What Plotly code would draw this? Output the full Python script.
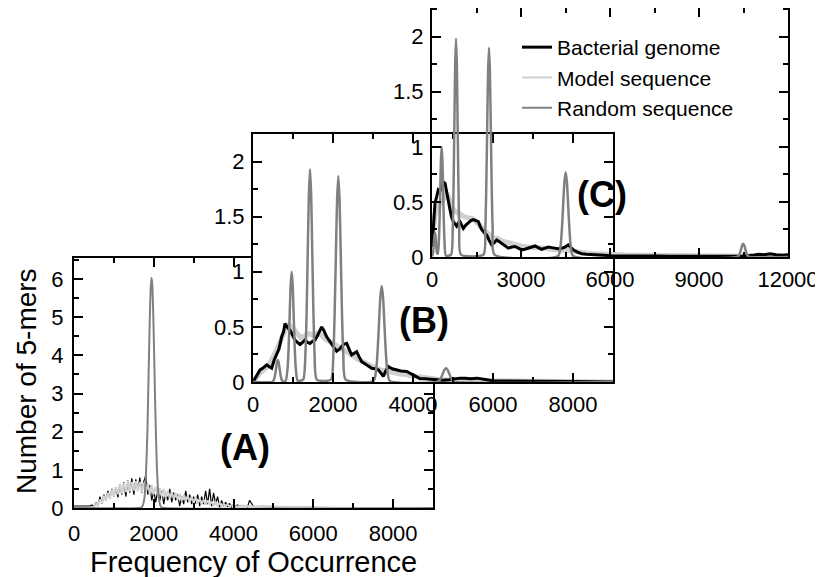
import plotly.graph_objects as go

# ---- 数据 (A) ----
a_bact_x = list(range(0, 401, 100)) + list(range(450, 4401, 50)) + list(range(4500, 9001, 250))
a_bact_y = [0.05, 0.05, 0.04, 0.04, 0.05,
            0.08, 0.02, 0.15, 0.05, 0.3, 0.12, 0.35, 0.2, 0.45, 0.25,
            0.5, 0.3, 0.55, 0.28, 0.62, 0.35, 0.68, 0.3, 0.72, 0.4,
            0.78, 0.35, 0.75, 0.45, 0.8, 0.4, 0.7, 0.85, 0.35, 0.6,
            0.2, 0.45, 0.15, 0.5, 0.2, 0.45, 0.1, 0.4, 0.2, 0.5,
            0.15, 0.4, 0.2, 0.35, 0.05, 0.3, 0.1, 0.45, 0.15, 0.35,
            0.1, 0.3, 0.12, 0.35, 0.05, 0.3, 0.1, 0.45, 0.1, 0.5,
            0.05, 0.4, 0.1, 0.3, 0.02, 0.2, 0.05, 0.15, 0.03, 0.12,
            0.02, 0.1, 0.04, 0.08, 0.05, 0.07, 0.04, 0.06, 0.03, 0.2,
            0.04, 0.03, 0.03, 0.02, 0.02, 0.015, 0.01, 0.01, 0.008, 0.006,
            0.005, 0.004, 0.003, 0.003, 0.002, 0.002, 0.001, 0.001, 0]

a_model_x = [0, 100, 200, 300, 400, 450] + list(range(500, 4001, 50)) + \
            [4250, 4500, 4750, 5000, 5250, 5500, 5750, 6000, 6500, 7000, 8000, 9000]
a_model_y = [0.01, 0.01, 0.01, 0.01, 0.01, 0.01,
             0.02, 0.12, 0.06, 0.22, 0.14, 0.32, 0.2, 0.4, 0.26, 0.48,
             0.3, 0.55, 0.36, 0.62, 0.38, 0.66, 0.42, 0.7, 0.44, 0.68,
             0.46, 0.7, 0.44, 0.68, 0.42, 0.66, 0.4, 0.64, 0.38, 0.6,
             0.36, 0.56, 0.34, 0.52, 0.3, 0.5, 0.28, 0.46, 0.26, 0.42,
             0.24, 0.4, 0.22, 0.38, 0.2, 0.34, 0.18, 0.32, 0.16, 0.3,
             0.14, 0.27, 0.12, 0.24, 0.1, 0.22, 0.09, 0.2, 0.08, 0.17,
             0.07, 0.15, 0.06, 0.13, 0.05, 0.11, 0.04, 0.09, 0.04, 0.08,
             0.03,
             0.06, 0.04, 0.05, 0.03, 0.025, 0.02, 0.01, 0.01, 0.005, 0, 0, 0]

a_rand_x = [0, 1600, 1700, 1760, 1800, 1840, 1870, 1900, 1920, 1940, 1960, 1980,
            2010, 2040, 2080, 2120, 2180, 2300, 9000]
a_rand_y = [0, 0, 0.02, 0.22, 0.8, 2.0, 3.5, 4.95, 5.7, 6.03, 5.9, 5.35,
            4.0, 2.5, 1.0, 0.32, 0.03, 0, 0]

# ---- 数据 (B) ----
b_bact_x = [0, 100, 175, 260, 342, 400, 467, 530, 592, 650, 717, 760, 800, 850, 925, 990,
            1050, 1110, 1175, 1240, 1300, 1360, 1425, 1490, 1550, 1610, 1675, 1717, 1780,
            1842, 1900, 1967, 2030, 2092, 2170, 2258, 2342, 2400, 2467, 2530, 2592, 2650,
            2717, 2780, 2842, 2900, 2967, 3050, 3133, 3200, 3258, 3320, 3383, 3480, 3592,
            3700, 3842, 3920, 4008, 4090, 4175, 4300, 4450, 4600, 4750, 4900, 5050, 5175,
            5300, 5450, 5600, 5750, 5850, 6000, 6300, 6600, 7000, 7500, 8000, 8500, 9000]
b_bact_y = [0, 0.06, 0.11, 0.13, 0.155, 0.14, 0.125, 0.2, 0.26, 0.3, 0.41, 0.45, 0.53, 0.5,
            0.47, 0.42, 0.38, 0.36, 0.34, 0.36, 0.38, 0.36, 0.35, 0.37, 0.38, 0.42, 0.47,
            0.5, 0.46, 0.41, 0.38, 0.34, 0.31, 0.28, 0.3, 0.34, 0.35, 0.3, 0.245, 0.26,
            0.275, 0.23, 0.185, 0.17, 0.155, 0.14, 0.125, 0.12, 0.11, 0.08, 0.05, 0.1,
            0.14, 0.12, 0.11, 0.1, 0.095, 0.08, 0.065, 0.05, 0.03, 0.03, 0.025, 0.02,
            0.015, 0.02, 0.03, 0.035, 0.035, 0.03, 0.035, 0.03, 0.02, 0.01, 0.01, 0.005,
            0.005, 0.008, 0.005, 0.003, 0]

b_model_x = [0, 100, 175, 260, 342, 420, 500, 600, 717, 800, 900, 1000, 1100, 1200, 1300,
             1400, 1500, 1600, 1700, 1800, 1900, 2000, 2100, 2200, 2300, 2400, 2500, 2600,
             2700, 2800, 2900, 3000, 3100, 3200, 3300, 3400, 3500, 3600, 3700, 3800, 3900,
             4000, 4200, 4400, 4600, 4800, 5000, 5500, 6000, 6500, 7000, 8000, 9000]
b_model_y = [0, 0.05, 0.08, 0.11, 0.13, 0.17, 0.22, 0.3, 0.4, 0.47, 0.52, 0.49, 0.44, 0.4,
             0.42, 0.44, 0.42, 0.44, 0.43, 0.39, 0.37, 0.35, 0.33, 0.31, 0.29, 0.26, 0.24,
             0.21, 0.19, 0.17, 0.15, 0.14, 0.12, 0.11, 0.1, 0.1, 0.08, 0.08, 0.07, 0.07,
             0.06, 0.05, 0.045, 0.03, 0.025, 0.02, 0.02, 0.015, 0.012, 0.008, 0.005, 0.003, 0]

b_rand_x = [0,
            485, 530, 553, 575, 598, 620, 643, 665, 688, 710, 755,
            817, 867, 892, 917, 942, 967, 992, 1017, 1042, 1067, 1117,
            1254, 1311, 1340, 1368, 1397, 1425, 1454, 1482, 1511, 1539, 1596,
            1947, 2009, 2040, 2071, 2102, 2133, 2164, 2195, 2226, 2257, 2319,
            3013, 3081, 3115, 3149, 3183, 3217, 3251, 3285, 3319, 3353, 3421,
            4585, 4665, 4705, 4745, 4785, 4825, 4865, 4905, 4945, 4985, 5065,
            9000]
b_rand_y = [0,
            0.002, 0.027, 0.065, 0.121, 0.177, 0.2, 0.177, 0.121, 0.065, 0.027, 0.002,
            0.011, 0.135, 0.325, 0.607, 0.883, 1.0, 0.883, 0.607, 0.325, 0.135, 0.011,
            0.021, 0.261, 0.627, 1.171, 1.703, 1.93, 1.703, 1.171, 0.627, 0.261, 0.021,
            0.021, 0.253, 0.607, 1.134, 1.65, 1.87, 1.65, 1.134, 0.607, 0.253, 0.021,
            0.01, 0.118, 0.282, 0.528, 0.768, 0.87, 0.768, 0.528, 0.282, 0.118, 0.01,
            0.001, 0.017, 0.041, 0.076, 0.11, 0.125, 0.11, 0.076, 0.041, 0.017, 0.001,
            0]

# ---- 数据 (C) ----
c_bact_x = [0, 50, 101, 160, 213, 270, 326, 380, 438, 494, 550, 607, 660, 718, 775, 831,
            890, 944, 1000, 1056, 1140, 1225, 1310, 1393, 1480, 1562, 1620, 1674, 1760,
            1843, 1930, 2012, 2100, 2180, 2260, 2349, 2460, 2573, 2690, 2797, 2910, 3022,
            3130, 3247, 3360, 3471, 3580, 3696, 3810, 3920, 4030, 4145, 4260, 4370, 4480,
            4594, 4680, 4763, 4900, 5044, 5200, 5400, 5600, 5800, 6000, 6300, 6600, 7000,
            7500, 8000, 8500, 9000, 9500, 10000, 10500, 10800, 11000, 11200, 11400, 11600,
            11800, 12000]
c_bact_y = [0.09, 0.3, 0.49, 0.55, 0.61, 0.6, 0.65, 0.68, 0.67, 0.58, 0.5, 0.43, 0.36,
            0.32, 0.3, 0.28, 0.31, 0.32, 0.29, 0.26, 0.29, 0.31, 0.33, 0.34, 0.33, 0.32,
            0.28, 0.25, 0.22, 0.2, 0.15, 0.11, 0.13, 0.155, 0.14, 0.125, 0.1, 0.08, 0.09,
            0.095, 0.08, 0.065, 0.07, 0.08, 0.09, 0.1, 0.085, 0.07, 0.08, 0.09, 0.085, 0.08,
            0.075, 0.08, 0.09, 0.11, 0.09, 0.065, 0.045, 0.03, 0.025, 0.02, 0.02, 0.015,
            0.012, 0.01, 0.01, 0.008, 0.008, 0.006, 0.006, 0.005, 0.005, 0.006, 0.01, 0.015,
            0.025, 0.02, 0.03, 0.02, 0.015, 0.02]

c_model_x = [0, 50, 100, 160, 213, 300, 380, 440, 494, 550, 600, 650, 700, 750, 850, 950,
             1050, 1150, 1250, 1350, 1450, 1550, 1700, 1850, 2000, 2100, 2200, 2400, 2600,
             2800, 3000, 3200, 3400, 3600, 3800, 4000, 4150, 4300, 4450, 4600, 4800, 5000,
             5250, 5500, 5750, 6000, 6500, 7000, 7500, 8000, 9000, 10000, 11000, 12000]
c_model_y = [0.15, 0.3, 0.38, 0.43, 0.46, 0.5, 0.52, 0.55, 0.57, 0.55, 0.5, 0.45, 0.44,
             0.42, 0.4, 0.38, 0.37, 0.36, 0.36, 0.35, 0.33, 0.3, 0.26, 0.22, 0.19, 0.17,
             0.17, 0.14, 0.13, 0.11, 0.1, 0.09, 0.09, 0.08, 0.08, 0.07, 0.07, 0.07, 0.065,
             0.06, 0.05, 0.04, 0.035, 0.03, 0.025, 0.02, 0.018, 0.015, 0.013, 0.01, 0.01,
             0.01, 0.01, 0.01]

c_rand_x = [0, 30, 48, 65, 83, 100, 118, 135, 153, 170, 195,
            230, 254, 278, 302, 326, 350, 374, 398, 422, 470,
            644, 699, 727, 754, 782, 809, 837, 864, 892, 919, 974,
            1735, 1797, 1828, 1859, 1890, 1921, 1952, 1983, 2014, 2045, 2107,
            4250, 4335, 4378, 4420, 4463, 4505, 4548, 4590, 4633, 4675, 4760,
            10280, 10350, 10385, 10420, 10455, 10490, 10525, 10560, 10595, 10630, 10700,
            12000]
c_rand_y = [0.005, 0.03, 0.071, 0.134, 0.194, 0.22, 0.194, 0.134, 0.071, 0.035, 0.03,
            0.135, 0.325, 0.607, 0.883, 1.0, 0.883, 0.607, 0.325, 0.135, 0.011,
            0.022, 0.268, 0.643, 1.201, 1.747, 1.98, 1.747, 1.201, 0.643, 0.268, 0.022,
            0.021, 0.257, 0.617, 1.152, 1.677, 1.9, 1.677, 1.152, 0.617, 0.257, 0.021,
            0.009, 0.104, 0.25, 0.467, 0.68, 0.77, 0.68, 0.467, 0.25, 0.104, 0.009,
            0.001, 0.016, 0.039, 0.073, 0.106, 0.12, 0.106, 0.073, 0.039, 0.016, 0.001,
            0]

c_tick_vals = [0, 3000, 6000, 9000, 12000]
c_tick_text = ["0", "3000", "6000", "9000", "12000"]

series_names = ["Bacterial genome", "Model sequence", "Random sequence"]
panel_labels = ["(A)", "(B)", "(C)"]

W, H = 823, 577
PAGE_OFFSET = 8  # 页面body默认留白
FONT = "Liberation Sans, Arial, sans-serif"
BLACK, LIGHT, GRAY = "#000000", "#d0d0d0", "#808080"


def px_x(p):
    return (p - PAGE_OFFSET) / W


def px_y(p):
    return 1 - (p - PAGE_OFFSET) / H


def axis_style(dom, rng, dtick, minor, standoff):
    return dict(
        domain=dom, range=rng, dtick=dtick, tick0=0,
        showline=True, linecolor="black", linewidth=2, mirror="ticks",
        ticks="inside", ticklen=9, tickwidth=1.5, tickcolor="black",
        minor=dict(ticks="inside", ticklen=5, tickwidth=1.5, tickcolor="black", dtick=minor),
        showgrid=False, zeroline=False, exponentformat="none",
        tickfont=dict(family=FONT, size=22, color="black"),
        ticklabelstandoff=standoff,
    )


def add_text(fig, text, sx, sy, size, angle=0):
    fig.add_annotation(x=px_x(sx), y=px_y(sy), xref="paper", yref="paper", text=text,
                       xanchor="center", yanchor="middle", textangle=angle, showarrow=False,
                       font=dict(family=FONT, size=size, color="black"))


fig = go.Figure()

# A: 模型序列画在上面 (灰色带), 其它面板黑线在上
panels = [
    ("x", "y", (a_model_x, a_model_y), (a_bact_x, a_bact_y), (a_rand_x, a_rand_y), (2, 1.2, 2), True),
    ("x2", "y2", (b_model_x, b_model_y), (b_bact_x, b_bact_y), (b_rand_x, b_rand_y), (5, 3, 2.5), False),
    ("x3", "y3", (c_model_x, c_model_y), (c_bact_x, c_bact_y), (c_rand_x, c_rand_y), (5, 3, 2.5), False),
]
for xa, ya, model, bact, rand, widths, model_on_top in panels:
    tr_model = go.Scatter(x=model[0], y=model[1], mode="lines", xaxis=xa, yaxis=ya,
                          line=dict(color=LIGHT, width=widths[0]), showlegend=False)
    tr_bact = go.Scatter(x=bact[0], y=bact[1], mode="lines", xaxis=xa, yaxis=ya,
                         line=dict(color=BLACK, width=widths[1]), showlegend=False)
    if model_on_top:
        fig.add_trace(tr_bact)
        fig.add_trace(tr_model)
    else:
        fig.add_trace(tr_model)
        fig.add_trace(tr_bact)
    fig.add_trace(go.Scatter(x=rand[0], y=rand[1], mode="lines", xaxis=xa, yaxis=ya,
                             line=dict(color=GRAY, width=widths[2], shape="spline", smoothing=0.6),
                             showlegend=False))

# 图例 (只在C面板)
for name, col, w in zip(series_names, [BLACK, LIGHT, GRAY], [3, 2, 2]):
    fig.add_trace(go.Scatter(x=[None], y=[None], mode="lines", name=name, xaxis="x3", yaxis="y3",
                             line=dict(color=col, width=w)))

c_x = axis_style([px_x(432), px_x(788)], [0, 12000], 3000, 1500, 2)
c_x.update(tickvals=c_tick_vals, ticktext=c_tick_text, tickmode="array")

fig.update_layout(
    width=W, height=H,
    margin=dict(l=0, r=0, t=0, b=0, autoexpand=False),
    paper_bgcolor="white", plot_bgcolor="white",
    font=dict(family=FONT, color="black"),
    xaxis=axis_style([px_x(74), px_x(433)], [0, 9000], 2000, 1000, 5),
    yaxis=axis_style([px_y(508), px_y(258)], [0, 6.55], 1, 0.5, 4),
    xaxis2=dict(anchor="y2", **axis_style([px_x(253), px_x(613)], [0, 9000], 2000, 1000, 2)),
    yaxis2=dict(anchor="x2", **axis_style([px_y(382), px_y(134)], [0, 2.25], 0.5, 0.25, 2)),
    xaxis3=dict(anchor="y3", **c_x),
    yaxis3=dict(anchor="x3", **axis_style([px_y(257), px_y(8)], [0, 2.26], 0.5, 0.25, 2)),
    legend=dict(x=px_x(517), y=px_y(27), xanchor="left", yanchor="top",
                bgcolor="rgba(0,0,0,0)", font=dict(family=FONT, size=21, color="black"),
                tracegroupgap=0),
    showlegend=True,
)

label_pos = [(245, 447), (424, 320), (602, 195)]
for text, (lx, ly) in zip(panel_labels, label_pos):
    add_text(fig, f"<b>{text}</b>", lx, ly, 36)

add_text(fig, "Frequency of Occurrence", 254, 562, 29)
add_text(fig, "Number of 5-mers", 26, 381, 28, angle=-90)

fig.write_html("out.html")
